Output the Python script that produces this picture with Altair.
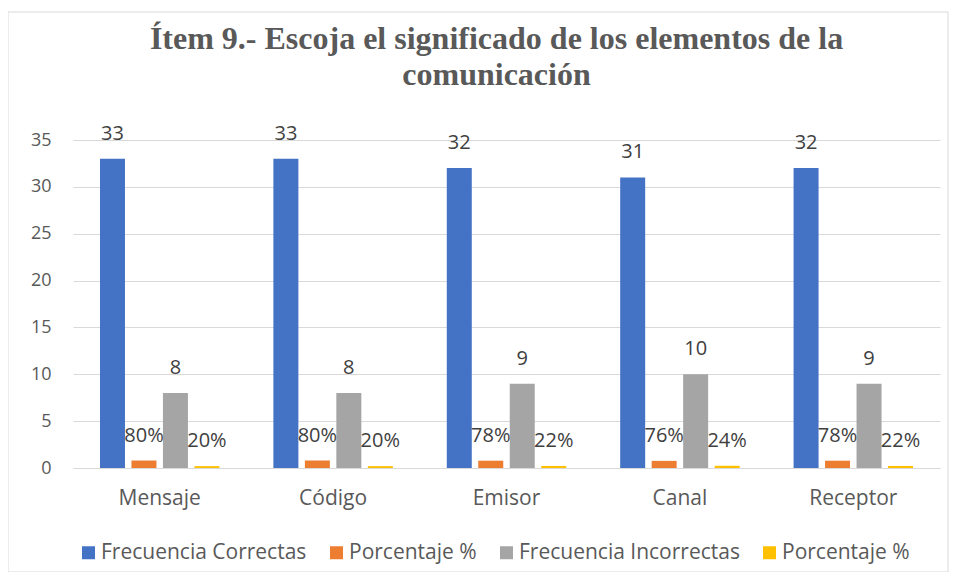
import altair as alt
import pandas as pd

categories = ["Mensaje", "Código", "Emisor", "Canal", "Receptor"]
series_keys = ["Frecuencia Correctas", "Porcentaje % (c)", "Frecuencia Incorrectas", "Porcentaje % (i)"]
series_colors = ["#4472C4", "#ED7D31", "#A5A5A5", "#FFC000"]

frecuencia_correctas = [33, 33, 32, 31, 32]
porcentaje_correctas = [0.80, 0.80, 0.78, 0.76, 0.78]
frecuencia_incorrectas = [8, 8, 9, 10, 9]
porcentaje_incorrectas = [0.20, 0.20, 0.22, 0.24, 0.22]

y_ticks = [0, 5, 10, 15, 20, 25, 30, 35]

rows = []
for key, vals, is_pct in [
    (series_keys[0], frecuencia_correctas, False),
    (series_keys[1], porcentaje_correctas, True),
    (series_keys[2], frecuencia_incorrectas, False),
    (series_keys[3], porcentaje_incorrectas, True),
]:
    for cat, v in zip(categories, vals):
        rows.append({
            "category": cat,
            "series": key,
            "value": v,
            "label": f"{round(v * 100)}%" if is_pct else str(v),
        })
df = pd.DataFrame(rows)

W, H = 867, 328

x_enc = alt.X(
    "category:N", sort=categories,
    scale=alt.Scale(paddingInner=0, paddingOuter=0),
    axis=alt.Axis(title=None, labelAngle=0, ticks=False, domain=True,
                  domainColor="#D9D9D9", labelFontSize=21, labelColor="#595959",
                  labelFont="Open Sans", labelPadding=19),
)
xoff_enc = alt.XOffset("series:N", sort=series_keys,
                       scale=alt.Scale(paddingInner=0.206, paddingOuter=0.857))
y_enc = alt.Y(
    "value:Q", scale=alt.Scale(domain=[0, 35], nice=False),
    axis=alt.Axis(values=y_ticks, title=None, domain=False, ticks=False,
                  gridColor="#D9D9D9", labelFontSize=18, labelColor="#595959",
                  labelFont="Open Sans", labelPadding=22),
)

bars = alt.Chart(df).mark_bar().encode(
    x=x_enc,
    xOffset=xoff_enc,
    y=y_enc,
    color=alt.Color(
        "series:N", sort=series_keys,
        scale=alt.Scale(domain=series_keys, range=series_colors),
        legend=alt.Legend(
            title=None, orient="none", direction="horizontal",
            legendX=5, legendY=402, symbolType="square", symbolSize=169,
            symbolStrokeWidth=0, labelFontSize=21, labelFont="Open Sans",
            labelColor="#595959", columnPadding=19, labelOffset=2, padding=0,
            labelLimit=0,
            labelExpr="split(datum.label, ' (')[0]",
        ),
    ),
)

labels = alt.Chart(df).mark_text(
    dy=-25, baseline="middle", align="center", fontSize=20,
    font="Open Sans", color="#404040",
).encode(
    x=alt.X("category:N", sort=categories),
    xOffset=alt.XOffset("series:N", sort=series_keys),
    y=alt.Y("value:Q"),
    text="label:N",
)

border = alt.Chart(alt.Data(values=[{}])).mark_rect(
    fill="transparent", stroke="#D9D9D9", strokeWidth=1
).encode(
    x=alt.value(-65), x2=alt.value(W + 8),
    y=alt.value(-128), y2=alt.value(H + 104),
)

chart = alt.layer(border, bars, labels).properties(
    width=W, height=H,
    title=alt.TitleParams(
        text=["Ítem 9.- Escoja el significado de los elementos de la", "comunicación"],
        font="Liberation Serif", fontSize=32, fontWeight="bold", color="#595959",
        lineHeight=36, anchor="middle", frame="group", dx=-10, dy=80, offset=0,
    ),
    autosize=alt.AutoSizeParams(type="none"),
    padding={"left": 65, "top": 132, "right": 9, "bottom": 104},
    background="white",
).configure_view(stroke=None)

chart.save("out.html", embed_options={"renderer": "svg", "actions": False})
